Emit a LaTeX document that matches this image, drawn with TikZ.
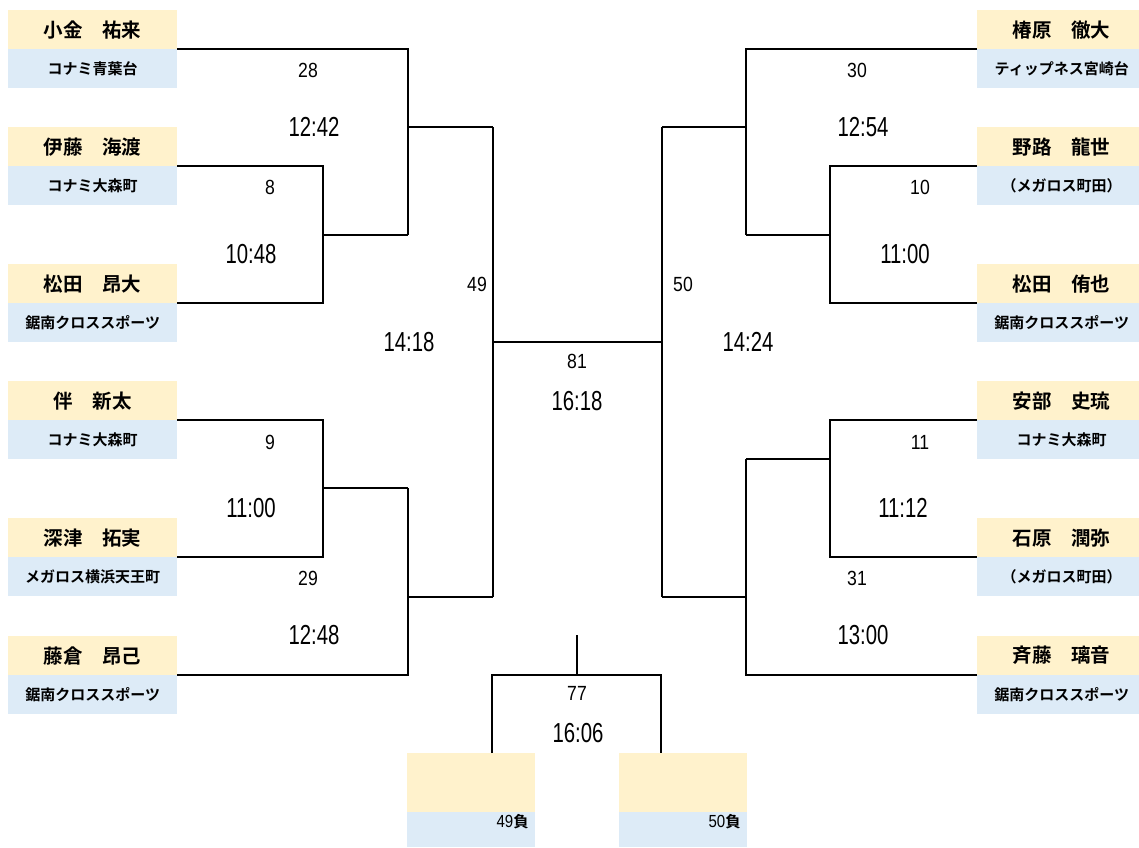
\documentclass[tikz,border=0pt]{standalone}
\usepackage{fontspec}
\newfontfamily\jp{Noto Sans CJK JP}[BoldFont={Noto Sans CJK JP Bold}]
\newfontfamily\numS{Liberation Sans}[FakeStretch=0.86]
\newfontfamily\numL{Liberation Sans}[FakeStretch=0.74]
\definecolor{nameY}{HTML}{FFF2CC}
\definecolor{clubB}{HTML}{DDEBF7}
\begin{document}
\begin{tikzpicture}[x=1pt,y=-1pt,
  namebox/.style={fill=nameY,draw=none,inner sep=0pt,minimum width=169pt,minimum height=39pt,anchor=north west},
  clubbox/.style={fill=clubB,draw=none,inner sep=0pt,minimum width=169pt,minimum height=39pt,anchor=north west},
  rnamebox/.style={namebox,minimum width=162pt},
  rclubbox/.style={clubbox,minimum width=162pt},
  nametext/.style={inner sep=0pt,font=\jp\bfseries\fontsize{19.5}{21}\selectfont},
  clubtext/.style={inner sep=0pt,font=\jp\bfseries\fontsize{15}{16}\selectfont},
  smallnum/.style={inner sep=0pt,font=\numS\fontsize{20.5}{22}\selectfont},
  bignum/.style={inner sep=0pt,font=\numL\fontsize{27.5}{29}\selectfont},
  wire/.style={draw=black,line width=1.6pt}]
\useasboundingbox (0,0) rectangle (1139,847);
\fill[white] (0,0) rectangle (1139,847);
% ---------- left players ----------
\node[namebox] (L1n) at (8,10) {}; \node[clubbox] (L1c) at (8,49) {};
\node[namebox] (L2n) at (8,127) {}; \node[clubbox] (L2c) at (8,166) {};
\node[namebox] (L3n) at (8,264) {}; \node[clubbox] (L3c) at (8,303) {};
\node[namebox] (L4n) at (8,381) {}; \node[clubbox] (L4c) at (8,420) {};
\node[namebox] (L5n) at (8,518) {}; \node[clubbox] (L5c) at (8,557) {};
\node[namebox] (L6n) at (8,636) {}; \node[clubbox] (L6c) at (8,675) {};
\node[nametext] (L1nt) at (L1n.center) {小金　祐来};
\node[clubtext] (L1ct) at (L1c.center) {コナミ青葉台};
\node[nametext] (L2nt) at (L2n.center) {伊藤　海渡};
\node[clubtext] (L2ct) at (L2c.center) {コナミ大森町};
\node[nametext] (L3nt) at (L3n.center) {松田　昂大};
\node[clubtext] (L3ct) at (L3c.center) {鋸南クロススポーツ};
\node[nametext] (L4nt) at (L4n.center) {伴　新太};
\node[clubtext] (L4ct) at (L4c.center) {コナミ大森町};
\node[nametext] (L5nt) at (L5n.center) {深津　拓実};
\node[clubtext] (L5ct) at (L5c.center) {メガロス横浜天王町};
\node[nametext] (L6nt) at (L6n.center) {藤倉　昂己};
\node[clubtext] (L6ct) at (L6c.center) {鋸南クロススポーツ};
% ---------- right players ----------
\node[rnamebox] (R1n) at (977,10) {}; \node[rclubbox] (R1c) at (977,49) {};
\node[rnamebox] (R2n) at (977,127) {}; \node[rclubbox] (R2c) at (977,166) {};
\node[rnamebox] (R3n) at (977,264) {}; \node[rclubbox] (R3c) at (977,303) {};
\node[rnamebox] (R4n) at (977,381) {}; \node[rclubbox] (R4c) at (977,420) {};
\node[rnamebox] (R5n) at (977,518) {}; \node[rclubbox] (R5c) at (977,557) {};
\node[rnamebox] (R6n) at (977,636) {}; \node[rclubbox] (R6c) at (977,675) {};
\node[nametext,xshift=3.5pt] (R1nt) at (R1n.center) {椿原　徹大};
\node[clubtext,xshift=3.5pt] (R1ct) at (R1c.center) {ティップネス宮崎台};
\node[nametext,xshift=3.5pt] (R2nt) at (R2n.center) {野路　龍世};
\node[clubtext,xshift=3.5pt] (R2ct) at (R2c.center) {（メガロス町田）};
\node[nametext,xshift=3.5pt] (R3nt) at (R3n.center) {松田　侑也};
\node[clubtext,xshift=3.5pt] (R3ct) at (R3c.center) {鋸南クロススポーツ};
\node[nametext,xshift=3.5pt] (R4nt) at (R4n.center) {安部　史琉};
\node[clubtext,xshift=3.5pt] (R4ct) at (R4c.center) {コナミ大森町};
\node[nametext,xshift=3.5pt] (R5nt) at (R5n.center) {石原　潤弥};
\node[clubtext,xshift=3.5pt] (R5ct) at (R5c.center) {（メガロス町田）};
\node[nametext,xshift=3.5pt] (R6nt) at (R6n.center) {斉藤　璃音};
\node[clubtext,xshift=3.5pt] (R6ct) at (R6c.center) {鋸南クロススポーツ};
% ---------- bottom boxes ----------
\node[namebox,minimum width=128pt,minimum height=59pt] (B1n) at (407,753) {};
\node[clubbox,minimum width=128pt,minimum height=35pt] (B1c) at (407,812) {};
\node[namebox,minimum width=128pt,minimum height=59pt] (B2n) at (619,753) {};
\node[clubbox,minimum width=128pt,minimum height=35pt] (B2c) at (619,812) {};
\node[inner sep=0pt,anchor=east] (B1ct) at (529,822) {{\numS\fontsize{17.5}{18}\selectfont 49}{\jp\bfseries\fontsize{15.5}{16}\selectfont 負}};
\node[inner sep=0pt,anchor=east] (B2ct) at (741,822) {{\numS\fontsize{17.5}{18}\selectfont 50}{\jp\bfseries\fontsize{15.5}{16}\selectfont 負}};
% ---------- junction coordinates ----------
\coordinate (m8) at (323,235);
\coordinate (m28) at (408,127);
\coordinate (m9) at (323,488);
\coordinate (m29) at (408,597);
\coordinate (m49) at (493,342);
\coordinate (m10) at (830,235);
\coordinate (m30) at (746,127);
\coordinate (m11) at (830,459);
\coordinate (m31) at (746,597);
\coordinate (m50) at (662,342);
\coordinate (m77) at (577,675);
\coordinate (top77) at (577,635);
% ---------- left wires ----------
\draw[wire] (L2c.north east) -- (323,166) -- (323,303) -- (L3c.north east);
\draw[wire] (m8) -- (408,235);
\draw[wire] (L1c.north east) -- (408,49) -- (408,235);
\draw[wire] (m28) -- (493,127);
\draw[wire] (L4c.north east) -- (323,420) -- (323,557) -- (L5c.north east);
\draw[wire] (m9) -- (408,488);
\draw[wire] (L6c.north east) -- (408,675) -- (408,488);
\draw[wire] (m29) -- (493,597);
\draw[wire] (493,127) -- (493,597);
\draw[wire] (m49) -- (m50);
% ---------- right wires ----------
\draw[wire] (R2c.north west) -- (830,166) -- (830,303) -- (R3c.north west);
\draw[wire] (m10) -- (746,235);
\draw[wire] (R1c.north west) -- (746,49) -- (746,235);
\draw[wire] (m30) -- (662,127);
\draw[wire] (R4c.north west) -- (830,420) -- (830,557) -- (R5c.north west);
\draw[wire] (m11) -- (746,459);
\draw[wire] (R6c.north west) -- (746,675) -- (746,459);
\draw[wire] (m31) -- (662,597);
\draw[wire] (662,127) -- (662,597);
% ---------- third place ----------
\draw[wire] (top77) -- (m77);
\draw[wire] (B1n.north west -| 492,0) -- (492,675) -- (661,675) -- (B2n.north west -| 661,0);
% ---------- labels ----------
\node[smallnum] (t28) at (308,70) {28};
\node[bignum] (s28) at (314,127) {12:42};
\node[smallnum] (t8) at (270,187) {8};
\node[bignum] (s8) at (251,254) {10:48};
\node[smallnum] (t49) at (477,284) {49};
\node[bignum] (s49) at (409,342) {14:18};
\node[smallnum] (t81) at (577,361) {81};
\node[bignum] (s81) at (577,401) {16:18};
\node[smallnum] (t50) at (683,284) {50};
\node[bignum] (s50) at (748,342) {14:24};
\node[smallnum] (t30) at (857,70) {30};
\node[bignum] (s30) at (863,127) {12:54};
\node[smallnum] (t10) at (920,187) {10};
\node[bignum] (s10) at (905,254) {11:00};
\node[smallnum] (t9) at (270,442) {9};
\node[bignum] (s9) at (251,508) {11:00};
\node[smallnum] (t29) at (308,578) {29};
\node[bignum] (s29) at (314,635) {12:48};
\node[smallnum] (t11) at (920,442) {11};
\node[bignum] (s11) at (903,508) {11:12};
\node[smallnum] (t31) at (857,578) {31};
\node[bignum] (s31) at (863,635) {13:00};
\node[smallnum] (t77) at (577,693) {77};
\node[bignum] (s77) at (578,733) {16:06};
\end{tikzpicture}
\end{document}
